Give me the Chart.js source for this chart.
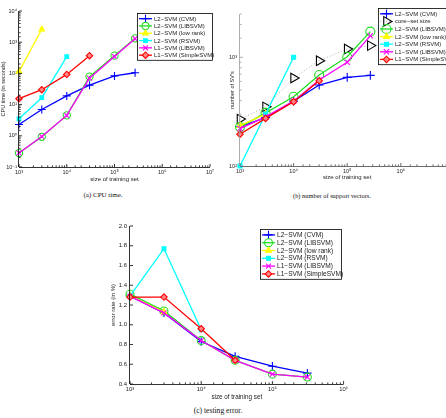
<!DOCTYPE html>
<html>
<head>
<meta charset="utf-8">
<script src="https://cdn.jsdelivr.net/npm/chart.js@4/dist/chart.umd.min.js"></script>
<style>
  body { margin: 0; background: #fff; overflow: hidden; width: 446px; height: 418px; position: relative; }
  canvas { position: absolute; }
  .cap { position: absolute; font-family: "Liberation Serif", serif; color: #111; white-space: nowrap;
         transform: translate(-50%, -50%); }
</style>
</head>
<body>
<canvas id="cpu" width="222" height="186" style="left:0;top:0"></canvas>
<canvas id="sv" width="232" height="186" style="left:229px;top:0"></canvas>
<canvas id="err" width="240" height="190" style="left:110px;top:215px"></canvas>
<div class="cap" style="left:103px;top:195px;font-size:7px">(a) CPU time.</div>
<div class="cap" style="left:332px;top:195px;font-size:6.4px">(b) number of support vectors.</div>
<div class="cap" style="left:218px;top:410px;font-size:7.6px">(c) testing error.</div>
<script>
// training set sizes
const sizes = [1e3, 3e3, 1e4, 3e4, 1e5, 2.7e5];
const sizesErr = [1e3, 3e3, 1e4, 3e4, 1e5, 3.1e5];

const names = ['L2−SVM (CVM)', 'L2−SVM (LIBSVM)', 'L2−SVM (low rank)',
               'L2−SVM (RSVM)', 'L1−SVM (LIBSVM)', 'L1−SVM (SimpleSVM)'];
const coreSetName = 'core−set size';

// (a) CPU time in seconds
const cpuCVM     = [2.3, 7, 19, 42, 83, 105];
const cpuL2Lib   = [0.28, 0.93, 4.5, 79, 370, 1330];
const cpuLowRank = [114, 2600];
const cpuRSVM    = [3.5, 16.6, 345];
const cpuL1Lib   = [0.28, 0.95, 4.5, 70, 350, 1300];
const cpuSimple  = [15.5, 30, 93, 370];

// (b) number of support vectors
const svCVM     = [229, 279, 395, 555, 653, 682];
const svCore    = [270, 350, 645, 930, 1190, 1280];
const svL2Lib   = [228, 308, 433, 687, 1010, 1720];
const svLowRank = [235, 300];
const svRSVM    = [100, 300, 1000];
const svL1Lib   = [221, 283, 395, 617, 900, 1575];
const svSimple  = [196, 274, 390, 608];

// (c) testing error in %
const errCVM     = [1.29, 1.12, 0.83, 0.68, 0.58, 0.51];
const errL2Lib   = [1.31, 1.14, 0.84, 0.64, 0.50, 0.47];
const errLowRank = [1.29, 1.13];
const errRSVM    = [1.29, 1.77, 0.95];
const errL1Lib   = [1.29, 1.12, 0.84, 0.64, 0.50, 0.47];
const errSimple  = [1.28, 1.28, 0.96, 0.64];

const errTicks = [0.4, 0.6, 0.8, 1, 1.2, 1.4, 1.6, 1.8, 2];

Chart.defaults.font.family = "'Liberation Sans', 'DejaVu Sans', sans-serif";
Chart.defaults.color = '#222';

const SUP = {'-': '⁻', '0': '⁰', '1': '¹', '2': '²', '3': '³', '4': '⁴',
             '5': '⁵', '6': '⁶', '7': '⁷', '8': '⁸', '9': '⁹'};
function decade(v) {
  const e = Math.log10(v), r = Math.round(e);
  if (Math.abs(e - r) > 1e-6) return '';
  return '10' + String(r).split('').map(c => SUP[c]).join('');
}

// marker look of each method (s = marker size factor)
function look(kind, s) {
  switch (kind) {
    case 'cvm':    return {color: '#0000ff', pointStyle: 'cross', fill: '#0000ff', r: 4 * s};
    case 'core':   return {color: '#999999', pointStyle: 'triangle', fill: 'rgba(0,0,0,0)', r: 5 * s,
                           pointBorderColor: '#000', pointRotation: 90, borderDash: [1, 2], borderWidth: 0.8};
    case 'l2lib':  return {color: '#22dd22', pointStyle: 'circle', fill: 'rgba(0,0,0,0)', r: 3.6 * s};
    case 'low':    return {color: '#ffff00', pointStyle: 'triangle', fill: '#ffff00', r: 3.2 * s};
    case 'rsvm':   return {color: '#00ffff', pointStyle: 'rect', fill: '#00ffff', r: 2.6 * s};
    case 'l1lib':  return {color: '#ff00ff', pointStyle: 'crossRot', fill: '#ff00ff', r: 3.4 * s};
    case 'simple': return {color: '#ff0000', pointStyle: 'rectRot', fill: '#ff8888', r: 3.2 * s};
  }
}

function series(label, xs, ys, kind, s, idx) {
  const l = look(kind, s);
  return {
    label: label,
    data: ys.map((y, i) => ({x: xs[i], y: y})),
    borderColor: l.color,
    backgroundColor: l.color,
    borderWidth: l.borderWidth || 1.3,
    borderDash: l.borderDash || [],
    pointStyle: l.pointStyle,
    pointRadius: l.r,
    pointBorderWidth: 1.1,
    pointBorderColor: l.pointBorderColor || l.color,
    pointBackgroundColor: l.fill,
    pointRotation: l.pointRotation || 0,
    tension: 0,
    clip: false,
    order: -idx
  };
}

// MATLAB style axes: left and bottom lines, ticks pointing inwards
const inTicks = {
  id: 'inTicks',
  afterDatasetsDraw(chart, args, opts) {
    const {ctx, chartArea: a} = chart;
    const xs = chart.scales.x, ys = chart.scales.y;
    ctx.save();
    ctx.lineWidth = 0.8;
    ctx.strokeStyle = opts.xColor || '#000';
    ctx.beginPath();
    ctx.moveTo(a.left, a.bottom + 0.5); ctx.lineTo(a.right, a.bottom + 0.5);
    xs.ticks.forEach(t => {
      const p = xs.getPixelForValue(t.value);
      const len = decade(t.value) ? 3 : 1.6;
      ctx.moveTo(p, a.bottom); ctx.lineTo(p, a.bottom - len);
    });
    ctx.stroke();
    ctx.strokeStyle = opts.yColor || '#000';
    ctx.beginPath();
    ctx.moveTo(a.left - 0.5, a.top); ctx.lineTo(a.left - 0.5, a.bottom);
    ys.ticks.forEach(t => {
      const p = ys.getPixelForValue(t.value);
      const len = (ys.type !== 'logarithmic' || decade(t.value)) ? 3 : 1.6;
      ctx.moveTo(a.left, p); ctx.lineTo(a.left + len, p);
    });
    ctx.stroke();
    ctx.restore();
  }
};

// boxed legend inside the axes
const boxLegend = {
  id: 'boxLegend',
  afterDraw(chart, args, o) {
    const ctx = chart.ctx;
    const sets = chart.data.datasets;
    const h = o.rowH * sets.length + 3;
    ctx.save();
    ctx.fillStyle = '#fff';
    ctx.fillRect(o.left, o.top, o.width, h);
    ctx.strokeStyle = '#000';
    ctx.lineWidth = 0.8;
    ctx.strokeRect(o.left + 0.5, o.top + 0.5, o.width, h);
    sets.forEach((ds, i) => {
      const y = o.top + 2 + o.rowH * (i + 0.5);
      ctx.strokeStyle = ds.borderColor;
      ctx.lineWidth = ds.borderWidth;
      ctx.setLineDash(ds.borderDash);
      ctx.beginPath();
      ctx.moveTo(o.left + 2, y); ctx.lineTo(o.left + 15, y);
      ctx.stroke();
      ctx.setLineDash([]);
      ctx.strokeStyle = ds.pointBorderColor;
      ctx.fillStyle = ds.pointBackgroundColor;
      ctx.lineWidth = ds.pointBorderWidth;
      Chart.helpers.drawPoint(ctx, {pointStyle: ds.pointStyle, radius: ds.pointRadius,
        borderWidth: ds.pointBorderWidth, rotation: ds.pointRotation}, o.left + 8.5, y);
      ctx.fillStyle = '#222';
      ctx.font = o.fontSize + "px 'Liberation Sans', sans-serif";
      ctx.textBaseline = 'middle';
      ctx.fillText(ds.label, o.left + 17, y + 0.3);
    });
    ctx.restore();
  }
};

const noGrid = {display: false, drawTicks: false};

function xLog(min, max, h, fs, titlePad) {
  return {
    type: 'logarithmic', min: min, max: max,
    grid: noGrid, border: {display: false},
    ticks: {autoSkip: false, maxRotation: 0, padding: 2, font: {size: fs}, callback: v => decade(v)},
    title: {display: true, text: 'size of training set', font: {size: fs + 0.5}, padding: {top: 0, bottom: titlePad}},
    afterFit: s => { s.height = h; }
  };
}

function makeChart(id, datasets, scales, padding, legend, ticksOpt) {
  return new Chart(document.getElementById(id), {
    type: 'line',
    data: {datasets: datasets},
    options: {
      responsive: false, animation: false, devicePixelRatio: 1,
      layout: {padding: padding},
      scales: scales,
      plugins: {legend: {display: false}, tooltip: {enabled: false},
                boxLegend: legend, inTicks: ticksOpt || {}}
    },
    plugins: [inTicks, boxLegend]
  });
}

// (a) CPU time
makeChart('cpu', [
  series(names[0], sizes, cpuCVM, 'cvm', 1, 0),
  series(names[1], sizes, cpuL2Lib, 'l2lib', 1, 1),
  series(names[2], sizes, cpuLowRank, 'low', 1, 2),
  series(names[3], sizes, cpuRSVM, 'rsvm', 1, 3),
  series(names[4], sizes, cpuL1Lib, 'l1lib', 1, 4),
  series(names[5], sizes, cpuSimple, 'simple', 1, 5)
], {
  x: xLog(1e3, 1e7, 19, 5.5, 3),
  y: {
    type: 'logarithmic', min: 0.1, max: 1e4,
    grid: noGrid, border: {display: false},
    ticks: {autoSkip: false, padding: 2, font: {size: 5.5}, callback: v => decade(v)},
    title: {display: true, text: 'CPU time (in seconds)', font: {size: 5.5}, padding: {top: 0, bottom: 0}},
    afterFit: s => { s.width = 19; }
  }
}, {left: 0, top: 11, right: 12, bottom: 0},
{left: 137, top: 13, width: 75, rowH: 7.3, fontSize: 6});

// (b) number of support vectors
makeChart('sv', [
  series(names[0], sizes, svCVM, 'cvm', 1.1, 0),
  series(coreSetName, sizes, svCore, 'core', 1.1, 1),
  series(names[1], sizes, svL2Lib, 'l2lib', 1.25, 2),
  series(names[2], sizes, svLowRank, 'low', 1.1, 3),
  series(names[3], sizes, svRSVM, 'rsvm', 1.1, 4),
  series(names[4], sizes, svL1Lib, 'l1lib', 1.1, 5),
  series(names[5], sizes, svSimple, 'simple', 1.0, 6)
], {
  x: xLog(1e3, 1e7, 20, 5.5, 5),
  y: {
    type: 'logarithmic', min: 100, max: 2500,
    grid: noGrid, border: {display: false},
    ticks: {autoSkip: false, padding: 3, font: {size: 5.5}, callback: v => decade(v)},
    title: {display: true, text: "number of SV's", font: {size: 5.5}, padding: {top: 0, bottom: 0}},
    afterFit: s => { s.width = 11; }
  }
}, {left: 0, top: 14, right: 4, bottom: 0},
{left: 149, top: 8, width: 78, rowH: 7.6, fontSize: 6},
{yColor: '#999', xColor: '#444'});

// (c) testing error
makeChart('err', [
  series(names[0], sizesErr, errCVM, 'cvm', 1.05, 0),
  series(names[1], sizesErr, errL2Lib, 'l2lib', 1.1, 1),
  series(names[2], sizesErr, errLowRank, 'low', 1.05, 2),
  series(names[3], sizesErr, errRSVM, 'rsvm', 1.05, 3),
  series(names[4], sizesErr, errL1Lib, 'l1lib', 1.05, 4),
  series(names[5], sizesErr, errSimple, 'simple', 1.0, 5)
], {
  x: xLog(1e3, 1e6, 21, 5.8, 4),
  y: {
    type: 'linear', min: 0.4, max: 2,
    afterBuildTicks: s => { s.ticks = errTicks.map(v => ({value: v})); },
    grid: noGrid, border: {display: false},
    ticks: {padding: 3, font: {size: 6}},
    title: {display: true, text: 'error rate (in %)', font: {size: 6}, padding: {top: 0, bottom: 0}},
    afterFit: s => { s.width = 20; }
  }
}, {left: 0, top: 11, right: 5, bottom: 0},
{left: 150, top: 14, width: 81, rowH: 7.8, fontSize: 6.6});
</script>
</body>
</html>
